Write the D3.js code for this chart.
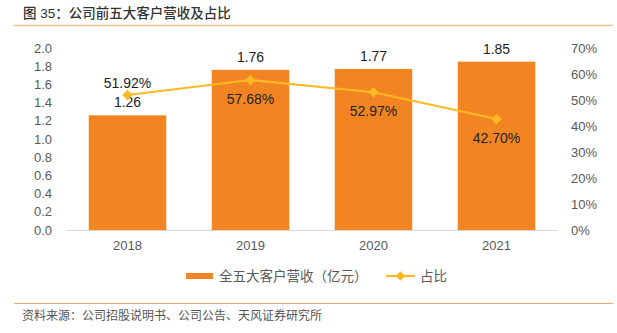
<!DOCTYPE html>
<html>
<head>
<meta charset="utf-8">
<script src="https://cdn.jsdelivr.net/npm/d3@7"></script>
<style>
  body { margin: 0; background: #fff; }
  text { font-family: "Liberation Sans", Arial, "Noto Sans CJK SC", sans-serif; }
  .cjk { font-family: "Liberation Sans", "Noto Sans CJK SC", sans-serif; }
</style>
</head>
<body>
<svg width="617" height="333"></svg>
<script>
var years = ["2018", "2019", "2020", "2021"];
var revenue = [1.26, 1.76, 1.77, 1.85];
var share = [0.5192, 0.5768, 0.5297, 0.4270];
var leftTicks = [0, 0.2, 0.4, 0.6, 0.8, 1.0, 1.2, 1.4, 1.6, 1.8, 2.0];
var rightTicks = [0, 0.1, 0.2, 0.3, 0.4, 0.5, 0.6, 0.7];
var shareLabelAbove = [true, false, false, false];

var barColor = "#F28522";
var lineColor = "#FDB924";

var svg = d3.select("svg");
var plotLeft = 66, plotRight = 558, plotTop = 48, plotBottom = 230;

var x = d3.scaleBand().domain(years).range([plotLeft, plotRight]).paddingInner(0.37).paddingOuter(0.185);
var yL = d3.scaleLinear().domain([0, 2]).range([plotBottom, plotTop]);
var yR = d3.scaleLinear().domain([0, 0.7]).range([plotBottom, plotTop]);

// title and rules
svg.append("text").attr("class", "cjk").attr("x", 23).attr("y", 18)
    .attr("font-size", 13.5).attr("font-weight", 500).attr("fill", "#333")
    .text("图 35：公司前五大客户营收及占比");
svg.append("line").attr("x1", 14).attr("x2", 613).attr("y1", 25.5).attr("y2", 25.5)
    .attr("stroke", "#F7BF8C").attr("stroke-width", 1.5);
svg.append("line").attr("x1", 14).attr("x2", 613).attr("y1", 303.5).attr("y2", 303.5)
    .attr("stroke", "#EFA56C").attr("stroke-width", 1);
svg.append("text").attr("class", "cjk").attr("x", 22).attr("y", 320)
    .attr("font-size", 12).attr("fill", "#555")
    .text("资料来源：公司招股说明书、公司公告、天风证券研究所");

// left axis labels
svg.append("g").selectAll("text").data(leftTicks).enter().append("text")
    .attr("x", 52).attr("y", function (d) { return yL(d); }).attr("dy", "0.35em")
    .attr("text-anchor", "end").attr("font-size", 13).attr("fill", "#595959")
    .text(function (d) { return d3.format(".1f")(d); });

// right axis labels
svg.append("g").selectAll("text").data(rightTicks).enter().append("text")
    .attr("x", 571).attr("y", function (d) { return yR(d); }).attr("dy", "0.35em")
    .attr("text-anchor", "start").attr("font-size", 13).attr("fill", "#595959")
    .text(function (d) { return d3.format(".0%")(d); });

// bars
svg.append("g").selectAll("rect").data(revenue).enter().append("rect")
    .attr("x", function (d, i) { return x(years[i]); })
    .attr("y", function (d) { return yL(d); })
    .attr("width", x.bandwidth())
    .attr("height", function (d) { return plotBottom - yL(d); })
    .attr("fill", barColor);

// baseline
svg.append("line").attr("x1", plotLeft).attr("x2", plotRight).attr("y1", plotBottom + 0.5).attr("y2", plotBottom + 0.5)
    .attr("stroke", "#d9d9d9").attr("stroke-width", 1);

// x labels
svg.append("g").selectAll("text").data(years).enter().append("text")
    .attr("x", function (d) { return x(d) + x.bandwidth() / 2; }).attr("y", 250)
    .attr("text-anchor", "middle").attr("font-size", 13).attr("fill", "#595959")
    .text(function (d) { return d; });

// bar value labels
svg.append("g").selectAll("text").data(revenue).enter().append("text")
    .attr("x", function (d, i) { return x(years[i]) + x.bandwidth() / 2; })
    .attr("y", function (d) { return yL(d) - 8; })
    .attr("text-anchor", "middle").attr("font-size", 14).attr("fill", "#222")
    .text(function (d) { return d3.format(".2f")(d); });

// line
var cx = function (d, i) { return x(years[i]) + x.bandwidth() / 2; };
var line = d3.line().x(cx).y(function (d) { return yR(d); });
svg.append("path").datum(share).attr("d", line)
    .attr("fill", "none").attr("stroke", lineColor).attr("stroke-width", 2.2);
svg.append("g").selectAll("path").data(share).enter().append("path")
    .attr("d", d3.symbol().type(d3.symbolDiamond2).size(70))
    .attr("transform", function (d, i) { return "translate(" + cx(d, i) + "," + yR(d) + ")"; })
    .attr("fill", lineColor);

// line labels
svg.append("g").selectAll("text").data(share).enter().append("text")
    .attr("x", cx)
    .attr("y", function (d, i) { return shareLabelAbove[i] ? yR(d) - 7 : yR(d) + 24; })
    .attr("text-anchor", "middle").attr("font-size", 14).attr("fill", "#222")
    .text(function (d) { return d3.format(".2%")(d); });

// legend
var lg = svg.append("g");
lg.append("rect").attr("x", 186).attr("y", 273).attr("width", 27).attr("height", 6).attr("fill", barColor);
lg.append("text").attr("class", "cjk").attr("x", 219).attr("y", 281)
    .attr("font-size", 13.5).attr("fill", "#595959").text("全五大客户营收（亿元）");
lg.append("line").attr("x1", 386).attr("x2", 415).attr("y1", 276).attr("y2", 276)
    .attr("stroke", lineColor).attr("stroke-width", 2.2);
lg.append("path").attr("d", d3.symbol().type(d3.symbolDiamond2).size(60))
    .attr("transform", "translate(400.5,276)").attr("fill", lineColor);
lg.append("text").attr("class", "cjk").attr("x", 420).attr("y", 281)
    .attr("font-size", 13.5).attr("fill", "#595959").text("占比");
</script>
</body>
</html>
